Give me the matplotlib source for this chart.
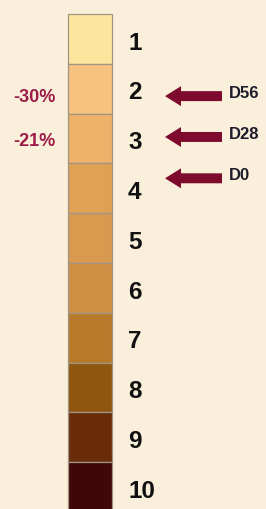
import matplotlib
matplotlib.use("Agg")
import matplotlib.pyplot as plt
import numpy as np

# colour scale levels (1 = lightest, 10 = darkest)
levels = np.arange(1, 11)
level_labels = [str(v) for v in levels]
level_colors = ["#FCE69E", "#F6C27E", "#EEB169", "#E1A155", "#D99A4F",
                "#CF9043", "#B9792B", "#8E560F", "#692B08", "#3F0707"]

# arrows pointing at the scale (time point, level)
arrow_names = ["D56", "D28", "D0"]
arrow_levels = [2.15, 2.97, 3.80]

# percentage changes on the left
pct_labels = ["-30%", "-21%"]
pct_levels = [2.18, 3.06]

BG = "#F9EFDA"
MAROON = "#7E0A2E"
PCT_COLOR = "#9C1C48"
FONT = ["Liberation Sans", "DejaVu Sans"]

fig = plt.figure(figsize=(2.66, 5.09), dpi=100)
fig.patch.set_facecolor(BG)
ax = fig.add_axes([0, 0, 1, 1])
ax.set_facecolor(BG)

# x in pixel-ish layout units, y in scale levels
ax.set_xlim(0, 266)
ax.set_ylim(10.44, 0.22)
ax.axis("off")

# ─── the colour bar ───────────────────────────────────────────────
ax.bar(np.full(len(levels), 90.0), np.ones(len(levels)), width=44,
       bottom=levels - 0.5, color=level_colors, edgecolor="#A09484", lw=0.9)

for lvl, lab in zip(levels, level_labels):
    ax.annotate(lab, (128, lvl), xytext=(0, -3), textcoords="offset points",
                ha="left", va="center", fontsize=17.5, fontweight="bold",
                family=FONT, color="#111111")

# ─── arrows + time labels ─────────────────────────────────────────
for name, lvl in zip(arrow_names, arrow_levels):
    ax.arrow(222, lvl, -57, 0, width=0.2, head_width=0.4, head_length=16,
             length_includes_head=True, color=MAROON, lw=0)
    ax.annotate(name, (229, lvl), xytext=(0, 2), textcoords="offset points",
                ha="left", va="center", fontsize=12, fontweight="bold",
                family=FONT, color="#1C1C2C")

# ─── percentage changes ───────────────────────────────────────────
for lab, lvl in zip(pct_labels, pct_levels):
    ax.text(34, lvl, lab, ha="center", va="center", fontsize=13,
            fontweight="bold", family=FONT, color=PCT_COLOR)

fig.savefig("out.png", dpi=100, facecolor=BG)
